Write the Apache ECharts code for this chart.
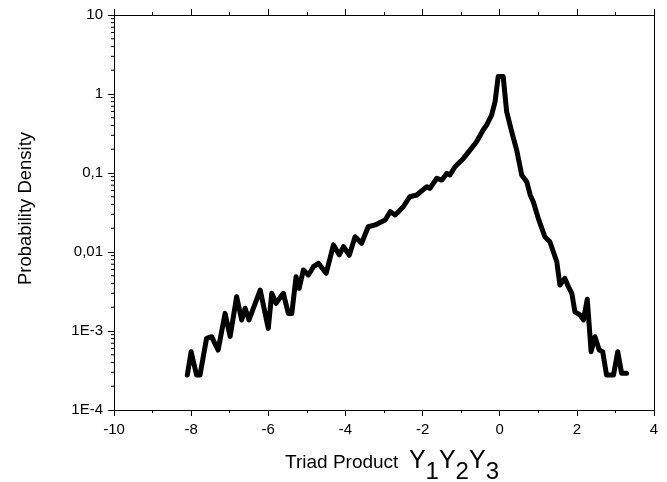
<!DOCTYPE html>
<html><head><meta charset="utf-8">
<script src="https://cdn.jsdelivr.net/npm/echarts@6/dist/echarts.min.js"></script>
</head><body style="margin:0;background:#fff">
<div id="c" style="width:667px;height:482px"></div>
<script>
const xVals = [-8.1,-8.0,-7.86,-7.77,-7.6,-7.47,-7.3,-7.12,-6.99,-6.82,-6.69,-6.6,-6.5,-6.21,-6.0,-5.91,-5.8,-5.61,-5.48,-5.39,-5.28,-5.2,-5.09,-4.96,-4.83,-4.7,-4.5,-4.31,-4.16,-4.05,-3.9,-3.75,-3.58,-3.41,-3.23,-2.97,-2.84,-2.71,-2.5,-2.33,-2.15,-1.89,-1.81,-1.63,-1.5,-1.37,-1.29,-1.16,-0.94,-0.77,-0.6,-0.43,-0.34,-0.21,-0.12,-0.04,0.0,0.09,0.18,0.31,0.44,0.57,0.7,0.79,0.87,1.0,1.17,1.3,1.48,1.56,1.69,1.78,1.87,1.95,2.08,2.17,2.27,2.37,2.47,2.58,2.67,2.77,2.95,3.06,3.16,3.29];
const yVals = [2.77e-4,5.47e-4,2.77e-4,2.77e-4,8.09e-4,8.47e-4,5.74e-4,1.67e-3,8.5e-4,2.72e-3,1.38e-3,1.94e-3,1.38e-3,3.3e-3,1.08e-3,3.0e-3,2.24e-3,3.0e-3,1.67e-3,1.67e-3,4.87e-3,3.47e-3,5.92e-3,5.12e-3,6.52e-3,7.19e-3,5.37e-3,0.0123,0.0092,0.0117,0.0091,0.0156,0.0129,0.0209,0.022,0.0254,0.0324,0.0294,0.0374,0.0501,0.0527,0.0671,0.064,0.0857,0.0815,0.099,0.0944,0.12,0.153,0.195,0.249,0.35,0.405,0.542,0.8,1.66,1.74,1.66,0.597,0.333,0.195,0.0944,0.0776,0.0527,0.0433,0.0267,0.0156,0.0135,0.00753,0.00382,0.00464,0.00364,0.0030,0.00175,0.0016,0.00138,0.00252,5.47e-4,8.47e-4,5.74e-4,5.47e-4,2.77e-4,2.77e-4,5.47e-4,2.92e-4,2.92e-4];
const yTickLabels = {'1':'10','0':'1','-1':'0,1','-2':'0,01','-3':'1E-3','-4':'1E-4'};
const yMinorTicks = [];
for (let e = -4; e < 1; e++) for (let m = 2; m <= 9; m++) yMinorTicks.push([-10, m * Math.pow(10, e)]);

const font = '"Liberation Sans", Arial, sans-serif';
const chart = echarts.init(document.getElementById('c'), null, {renderer: 'canvas'});
const axisLine = {show: true, onZero: false, lineStyle: {color: '#000', width: 1}};
chart.setOption({
  animation: false,
  grid: {left: 114, right: 13, top: 15, bottom: 72, containLabel: false, outerBoundsMode: 'none'},
  xAxis: [{
    type: 'value', min: -10, max: 4, interval: 2, position: 'bottom',
    axisLine: axisLine, splitLine: {show: false},
    axisTick: {show: true, length: 6, lineStyle: {color: '#000'}},
    minorTick: {show: true, splitNumber: 2, length: 3, lineStyle: {color: '#000'}},
    axisLabel: {color: '#000', fontSize: 15, fontFamily: font, margin: 12},
    name: '{t|Triad Product  }{y|Y}{s|1}{y|Y}{s|2}{y|Y}{s|3}',
    nameLocation: 'middle', nameGap: 49,
    nameTextStyle: {padding: [0, 0, 0, 16], rich: {
      t: {fontSize: 19, lineHeight: 19, fontFamily: font, color: '#000', verticalAlign: 'bottom', padding: [0,0,12,0]},
      y: {fontSize: 25, lineHeight: 25, fontFamily: font, color: '#000', verticalAlign: 'bottom', padding: [0,0,10,0]},
      s: {fontSize: 24, lineHeight: 24, fontFamily: font, color: '#000', verticalAlign: 'bottom'}
    }}
  }, {
    type: 'value', min: -10, max: 4, interval: 2, position: 'top',
    axisLine: axisLine, splitLine: {show: false},
    axisTick: {show: true, length: 6, lineStyle: {color: '#000'}},
    minorTick: {show: true, splitNumber: 2, length: 3, lineStyle: {color: '#000'}},
    axisLabel: {show: false}
  }],
  yAxis: [{
    type: 'log', logBase: 10, min: 1e-4, max: 10, position: 'left',
    axisLine: axisLine, splitLine: {show: false},
    axisTick: {show: true, length: 6, lineStyle: {color: '#000'}},
    axisLabel: {color: '#000', fontSize: 15, fontFamily: font, margin: 11,
      formatter: v => yTickLabels[String(Math.round(Math.log10(v)))] || ''},
    name: 'Probability Density', nameLocation: 'middle', nameGap: 79,
    nameTextStyle: {fontSize: 18.5, fontFamily: font, color: '#000', padding: [0, 0, 0, 8]}
  }, {
    type: 'log', logBase: 10, min: 1e-4, max: 10, position: 'right',
    axisLine: axisLine, splitLine: {show: false},
    axisTick: {show: false}, axisLabel: {show: false}
  }],
  series: [{
    type: 'line', xAxisIndex: 0, yAxisIndex: 0,
    data: xVals.map((x, i) => [x, yVals[i]]),
    symbol: 'none', lineStyle: {color: '#000', width: 5, join: 'round', cap: 'round'},
    silent: true
  }, {
    type: 'custom', xAxisIndex: 0, yAxisIndex: 0, clip: false, silent: true,
    data: yMinorTicks,
    renderItem: (params, api) => {
      const p = api.coord([api.value(0), api.value(1)]);
      return {type: 'line', shape: {x1: p[0] - 3, y1: p[1], x2: p[0], y2: p[1]},
        style: {stroke: '#000', lineWidth: 1}};
    }
  }]
});
</script>
</body></html>
